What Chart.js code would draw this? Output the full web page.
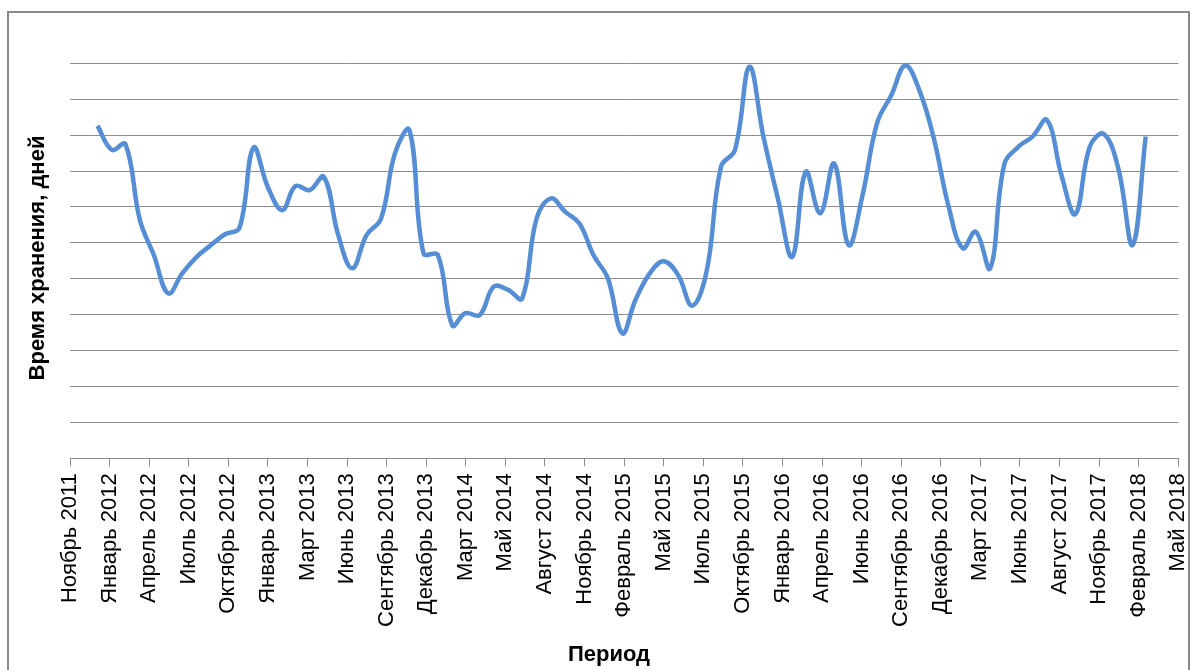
<!DOCTYPE html>
<html lang="ru">
<head>
<meta charset="utf-8">
<title>Время хранения, дней</title>
<script src="https://cdn.jsdelivr.net/npm/chart.js@4/dist/chart.umd.min.js"></script>
<style>
  html, body { margin: 0; padding: 0; background: #ffffff; }
  canvas { display: block; }
</style>
</head>
<body>
<canvas id="chart" width="1192" height="670"></canvas>
<script>
// Monthly periods (first day of each month)
const periods = [
  '2012-01','2012-02','2012-03','2012-04','2012-05','2012-06','2012-07','2012-08','2012-09','2012-10','2012-11','2012-12',
  '2013-01','2013-02','2013-03','2013-04','2013-05','2013-06','2013-07','2013-08','2013-09','2013-10','2013-11','2013-12',
  '2014-01','2014-02','2014-03','2014-04','2014-05','2014-06','2014-07','2014-08','2014-09','2014-10','2014-11','2014-12',
  '2015-01','2015-02','2015-03','2015-04','2015-05','2015-06','2015-07','2015-08','2015-09','2015-10','2015-11','2015-12',
  '2016-01','2016-02','2016-03','2016-04','2016-05','2016-06','2016-07','2016-08','2016-09','2016-10','2016-11','2016-12',
  '2017-01','2017-02','2017-03','2017-04','2017-05','2017-06','2017-07','2017-08','2017-09','2017-10','2017-11','2017-12',
  '2018-01','2018-02','2018-03'
];

// Storage time per month
const storageDays = [
  92.6, 85.9, 87.5, 66.4, 56.6, 45.9, 51.5, 56.1, 59.4, 62.4, 64.2, 86.5,
  75.5, 69.1, 75.8, 74.7, 78.4, 62.2, 52.9, 62.2, 66.8, 85.0, 91.4, 57.1,
  56.6, 37.0, 40.4, 39.9, 47.8, 46.9, 44.5, 66.8, 72.4, 68.7, 65.4, 56.6,
  50.1, 34.8, 44.0, 51.5, 54.9, 51.0, 42.5, 52.0, 81.2, 85.9, 109.0, 89.6,
  72.4, 56.1, 79.8, 68.2, 82.1, 59.4, 73.3, 93.3, 101.2, 109.4, 102.1, 89.1,
  70.5, 58.5, 63.1, 52.9, 81.7, 86.8, 89.6, 94.2, 78.9, 68.0, 86.8, 90.3,
  80.8, 59.4, 89.6
];

// Date axis: ticks every 85 days from the axis start
const tickLabels = [
  'Ноябрь 2011','Январь 2012','Апрель 2012','Июль 2012','Октябрь 2012','Январь 2013','Март 2013',
  'Июнь 2013','Сентябрь 2013','Декабрь 2013','Март 2014','Май 2014','Август 2014','Ноябрь 2014',
  'Февраль 2015','Май 2015','Июль 2015','Октябрь 2015','Январь 2016','Апрель 2016','Июнь 2016',
  'Сентябрь 2016','Декабрь 2016','Март 2017','Июнь 2017','Август 2017','Ноябрь 2017','Февраль 2018','Май 2018'
];
const axisStart = '2011-11-03';
const axisStepDays = 85;

const xTitle = 'Период';
const yTitle = 'Время хранения, дней';

function dayNumber(iso) {
  const parts = iso.split('-').map(Number);
  return Date.UTC(parts[0], parts[1] - 1, parts[2] || 1) / 86400000;
}

const axisMin = dayNumber(axisStart);
const axisMax = axisMin + axisStepDays * (tickLabels.length - 1);
const points = periods.map((p, i) => ({ x: dayNumber(p), y: storageDays[i] }));

const FONT = "'Liberation Sans', Arial, sans-serif";
const GRID = '#8c8c8c';

// White background, outer frame and axis titles
const frame = {
  id: 'frame',
  beforeDraw(chart) {
    const ctx = chart.ctx;
    ctx.save();
    ctx.fillStyle = '#ffffff';
    ctx.fillRect(0, 0, chart.width, chart.height);
    ctx.restore();
  },
  afterDraw(chart) {
    const ctx = chart.ctx;
    ctx.save();
    ctx.strokeStyle = '#8a8a8a';
    ctx.lineWidth = 2;
    ctx.strokeRect(8, 12, 1181, 700);

    ctx.fillStyle = '#000000';
    ctx.font = 'bold 22px ' + FONT;
    ctx.textAlign = 'center';
    ctx.textBaseline = 'middle';
    ctx.fillText(xTitle, 609, 655);

    ctx.translate(38, 258);
    ctx.rotate(-Math.PI / 2);
    ctx.fillText(yTitle, 0, 0);
    ctx.restore();
  }
};

new Chart(document.getElementById('chart'), {
  type: 'line',
  data: {
    datasets: [{
      data: points,
      borderColor: '#558ED5',
      borderWidth: 4.5,
      pointRadius: 0,
      pointHoverRadius: 0,
      tension: 0.4,
      fill: false,
      clip: false
    }]
  },
  options: {
    responsive: false,
    animation: false,
    devicePixelRatio: 1,
    layout: { padding: { top: 63.3, right: 13.7, left: 0, bottom: 0 } },
    plugins: {
      legend: { display: false },
      tooltip: { enabled: false }
    },
    scales: {
      x: {
        type: 'linear',
        min: axisMin,
        max: axisMax,
        afterBuildTicks(scale) {
          scale.ticks = tickLabels.map((_, i) => ({ value: axisMin + i * axisStepDays }));
        },
        afterFit(scale) {
          scale.height = 670 - 458.3;
          scale.paddingLeft = 0;
          scale.paddingRight = 0;
        },
        ticks: {
          autoSkip: false,
          minRotation: 90,
          maxRotation: 90,
          padding: 7,
          color: '#000000',
          font: { family: FONT, size: 22 },
          callback: (value, index) => tickLabels[index]
        },
        grid: {
          drawOnChartArea: false,
          drawTicks: true,
          tickLength: 8,
          color: GRID,
          lineWidth: 1
        },
        border: { display: true, color: GRID, width: 1 }
      },
      y: {
        min: 0,
        max: 110,
        afterFit(scale) { scale.width = 70; },
        ticks: { stepSize: 10, display: false },
        grid: { color: GRID, lineWidth: 1, drawTicks: false },
        border: { display: false }
      }
    }
  },
  plugins: [frame]
});
</script>
</body>
</html>
